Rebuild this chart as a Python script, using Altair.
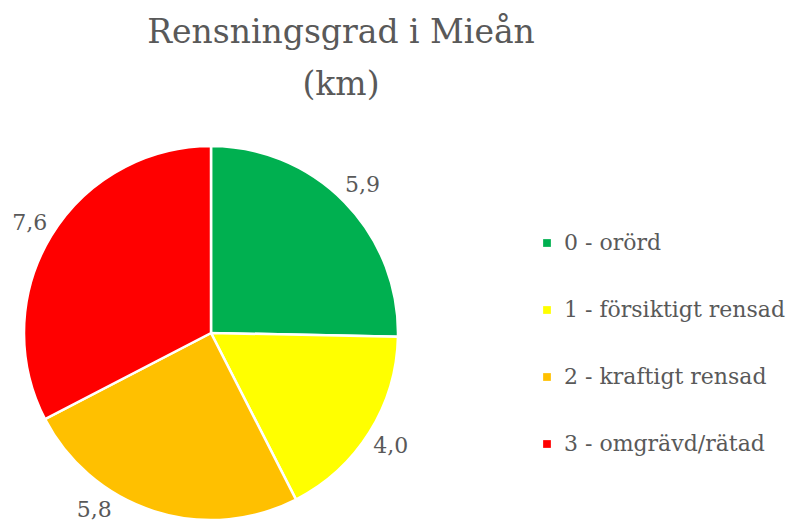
import math
import altair as alt
import pandas as pd

categories = ["0 - orörd", "1 - försiktigt rensad", "2 - kraftigt rensad", "3 - omgrävd/rätad"]
values = [5.9, 4.0, 5.8, 7.6]
colors = ["#00B050", "#FFFF00", "#FFC000", "#FF0000"]

df = pd.DataFrame({"kategori": categories, "km": values})

TXT = "#595959"
FONT = "DejaVu Serif"
CX, CY = 203, 231          # pie centre inside the plot area
R_PIE = 187
R_LBL = 212
MAX_DY = 177               # labels are kept inside the chart's bottom edge
TWO_PI = 2 * math.pi

arcs = alt.Chart(df).mark_arc(outerRadius=R_PIE, stroke="white", strokeWidth=2.5).encode(
    theta=alt.Theta("km:Q", stack=True),
    order=alt.Order("kategori:N", sort="ascending"),
    x=alt.value(CX),
    y=alt.value(CY),
    color=alt.Color(
        "kategori:N",
        scale=alt.Scale(domain=categories, range=colors),
        legend=alt.Legend(
            title=None,
            orient="none",
            legendX=528,
            legendY=130,
            symbolType="square",
            symbolSize=60,
            symbolStrokeWidth=0,
            labelFont=FONT,
            labelFontSize=22,
            labelColor=TXT,
            labelOffset=6,
            labelLimit=400,
            rowPadding=45,
            padding=0,
        ),
    ),
)

lim = MAX_DY / R_LBL
labels = alt.Chart(df).transform_joinaggregate(
    total="sum(km)"
).transform_window(
    cum="sum(km)", sort=[alt.SortField("kategori", order="ascending")], frame=[None, 0]
).transform_calculate(
    mid="(datum.cum - datum.km / 2) / datum.total * 2 * PI",
    etikett="replace(format(datum.km, '.1f'), '.', ',')",
).transform_calculate(
    la=f"cos(datum.mid) < -{lim} ? (sin(datum.mid) < 0 ? PI + acos({lim}) : PI - acos({lim})) : datum.mid"
).mark_text(radius=R_LBL, font=FONT, fontSize=22, color=TXT,
            align="center", baseline="middle").encode(
    theta=alt.Theta("la:Q", stack=None,
                    scale=alt.Scale(domain=[0, TWO_PI], range=[0, TWO_PI], zero=True, nice=False)),
    x=alt.value(CX),
    y=alt.value(CY),
    text="etikett:N",
)

chart = alt.layer(arcs, labels).resolve_scale(theta="independent").properties(
    width=782,
    height=421,
    autosize=alt.AutoSizeParams(type="none"),
    padding={"top": 94, "left": 0, "right": 0, "bottom": 0},
    title=alt.TitleParams(
        text=["Rensningsgrad i Mieån", "(km)"],
        font=FONT,
        fontSize=33,
        fontWeight="normal",
        color=TXT,
        anchor="middle",
        dx=-58,
        offset=0,
        lineHeight=52,
    ),
).configure(background="white").configure_view(stroke=None, strokeWidth=0)

chart.save("out.html", embed_options={"renderer": "svg", "actions": False})
